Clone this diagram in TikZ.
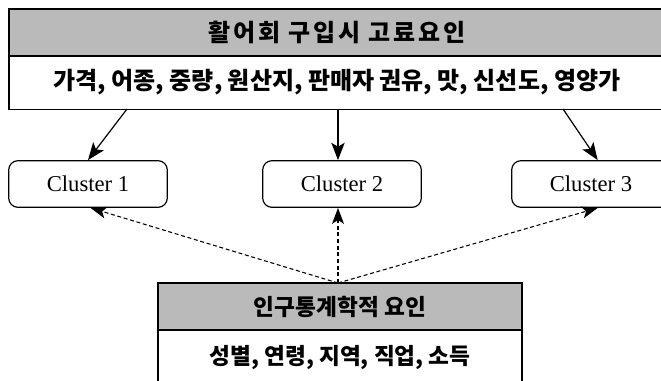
\documentclass[tikz,border=0pt]{standalone}
\usepackage{fontspec}
\setmainfont{Liberation Serif}
\newfontfamily\kr{Noto Sans CJK KR}
\newfontfamily\krwide{Noto Sans CJK KR}[LetterSpace=12]
\usetikzlibrary{arrows.meta,positioning,calc}

\begin{document}
\begin{tikzpicture}[x=0.75pt,y=-0.75pt,
    band/.style={draw, line width=1pt, fill=black!27, minimum height=35.25pt, inner sep=0pt},
    body/.style={draw, line width=1pt, fill=white, inner sep=0pt},
    cluster/.style={draw, rounded corners=7pt, line width=0.9pt, minimum width=119pt, minimum height=35pt, font=\fontsize{17}{20}\selectfont},
    solidarrow/.style={-{Stealth[length=13pt,width=10pt,inset=3pt]}, line width=0.9pt},
    dasharrow/.style={-{Stealth[length=12pt,width=9pt,inset=3pt]}, densely dashed, line width=0.8pt}]
    \clip (0,0) rectangle (661,380);
    \fill[white] (0,0) rectangle (661,380);

    % Top box
    \node[band, minimum width=492pt, font=\krwide\bfseries\fontsize{18}{21}\selectfont] (tophead) at (337,32.5) {활어회 구입시 고료요인};
    \node[body, minimum width=492pt, minimum height=40pt, font=\kr\bfseries\fontsize{18}{21}\selectfont] (topbody) at (337,82.5) {가격, 어종, 중량, 원산지, 판매자 권유, 맛, 신선도, 영양가};

    % Clusters
    \node[cluster] (c1) at (88,184) {Cluster 1};
    \node[cluster] (c2) at (342,184) {Cluster 2};
    \node[cluster] (c3) at (591,184) {Cluster 3};

    % Bottom box
    \node[band, minimum width=273pt, font=\kr\bfseries\fontsize{17}{20}\selectfont] (bothead) at (340,306.5) {인구통계학적 요인};
    \node[body, minimum width=273pt, minimum height=40.5pt, font=\kr\bfseries\fontsize{17}{20}\selectfont] (botbody) at (340,357) {성별, 연령, 지역, 직업, 소득};

    % Arrows
    \coordinate (s1) at (127,109);
    \coordinate (s2) at (338,109);
    \coordinate (s3) at (563,109);
    \draw[solidarrow] (s1) -- (c1.north);
    \draw[solidarrow] (s2) -- (s2 |- c2.north);
    \draw[solidarrow] (s3) -- ([xshift=5pt]c3.north);

    \coordinate (d0) at (338,283);
    \draw[dasharrow] (d0) -- ([xshift=2pt]c1.south);
    \draw[dasharrow] (d0) -- (d0 |- c2.south);
    \draw[dasharrow] (d0) -- ([xshift=5pt]c3.south);
\end{tikzpicture}
\end{document}
